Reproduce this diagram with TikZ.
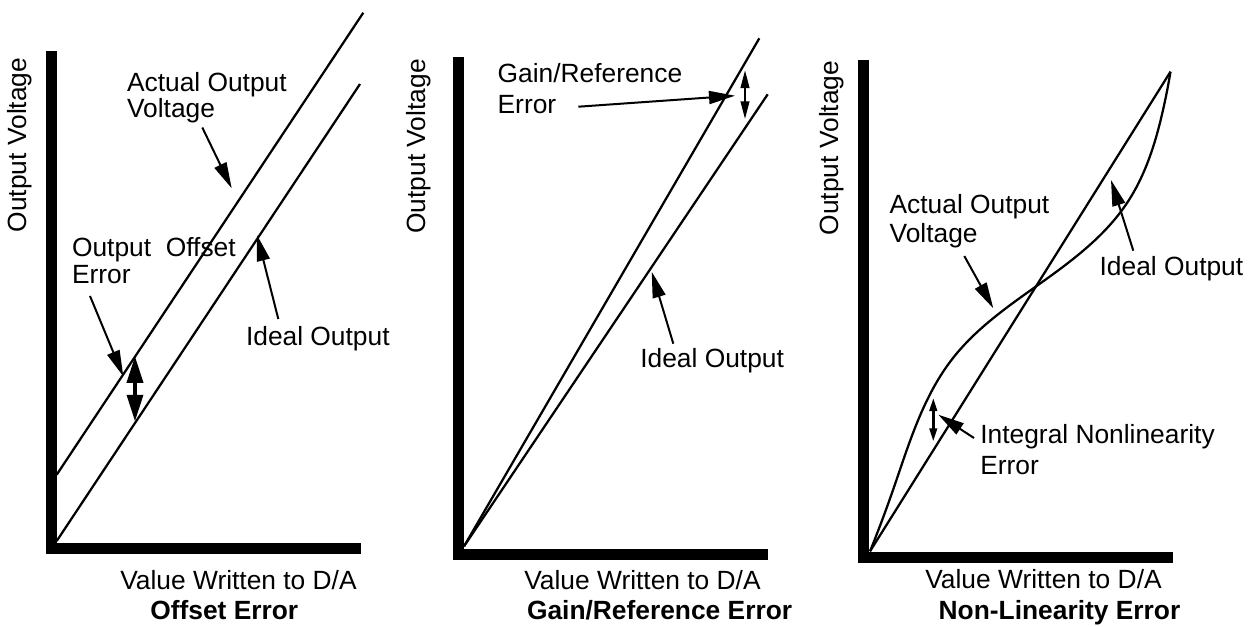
\documentclass[tikz,border=0pt]{standalone}
\usepackage{fontspec}
\setmainfont{Liberation Sans}
\usepackage{tikz}
\usetikzlibrary{arrows.meta,hobby}

\begin{document}
\begin{tikzpicture}[x=0.02cm,y=-0.02cm,
    axis/.style={line width=0.213cm,line join=miter},
    curve/.style={line width=0.045cm},
    lbl/.style={inner sep=0pt,anchor=base west,align=left,font=\fontsize{15}{17.6}\selectfont},
    ylbl/.style={inner sep=0pt,anchor=base,rotate=90,font=\fontsize{15}{17.6}\selectfont},
    ttl/.style={inner sep=0pt,anchor=base west,font=\fontsize{15}{17.6}\selectfont\bfseries},
    pointer/.style={line width=0.04cm,-{Triangle[length=0.52cm,width=0.26cm]}},
    bigspan/.style={line width=0.07cm,{Triangle[length=0.53cm,width=0.32cm]}-{Triangle[length=0.53cm,width=0.32cm]}},
    span/.style={line width=0.05cm,{Triangle[length=0.36cm,width=0.17cm]}-{Triangle[length=0.36cm,width=0.17cm]}},
    smallspan/.style={line width=0.05cm,{Triangle[length=0.26cm,width=0.15cm]}-{Triangle[length=0.26cm,width=0.15cm]}}]
  \useasboundingbox (0,0) rectangle (1257,626);

  \draw[axis] (51.3,51) |- (361,548.3);
  \coordinate (O1) at (56.7,541);
  \coordinate (I1) at (360,84);
  \coordinate (A1) at (56.7,474.7);
  \coordinate (B1) at (363.3,12.7);
  \draw[curve] (O1) -- (I1);
  \draw[curve] (A1) -- (B1);
  \node[ylbl] (yl1) at (26.5,145) {Output Voltage};
  \node[lbl] (act1) at (126.7,117) {Actual Output\\[-2.9pt]Voltage};
  \node[lbl] (off1) at (71.7,283) {Output\ \ Offset\\[-2.4pt]Error};
  \node[lbl] (ide1) at (245.7,345.3) {Ideal Output};
  \node[lbl] (xl1) at (120,589.7) {Value Written to D/A};
  \node[ttl] (t1) at (150,619.7) {Offset Error};
  \coordinate (pa1) at (202.3,127.5);
  \coordinate (qa1) at (231.7,188.3);
  \coordinate (po1) at (90,296);
  \coordinate (qo1) at (123.3,376.3);
  \coordinate (pi1) at (278.3,319);
  \coordinate (qi1) at (257,235);
  \coordinate (du1) at (135,356.3);
  \coordinate (dd1) at (135,421.3);
  \draw[pointer] (pa1) -- (qa1);
  \draw[pointer] (po1) -- (qo1);
  \draw[pointer] (pi1) -- (qi1);
  \draw[bigspan] (du1) -- (dd1);

  \draw[axis] (458.7,57.3) |- (767.7,554.3);
  \coordinate (O2) at (464,546.3);
  \coordinate (A2) at (759.3,38.3);
  \coordinate (I2) at (767.7,94.3);
  \draw[curve] (O2) -- (A2);
  \draw[curve] (O2) -- (I2);
  \node[ylbl] (yl2) at (425.5,146.5) {Output Voltage};
  \node[lbl] (gain2) at (497.3,113.3) {Gain/Reference\\Error};
  \node[lbl] (ide2) at (640,367) {Ideal Output};
  \node[lbl] (xl2) at (524,589.7) {Value Written to D/A};
  \node[ttl] (t2) at (526.7,619.7) {Gain/Reference Error};
  \coordinate (pg2) at (578.3,106.7);
  \coordinate (qg2) at (735,95.7);
  \coordinate (pi2) at (673.3,343.7);
  \coordinate (qi2) at (651.7,271.7);
  \coordinate (du2) at (745,70);
  \coordinate (dd2) at (745,119.3);
  \draw[pointer] (pg2) -- (qg2);
  \draw[pointer] (pi2) -- (qi2);
  \draw[span] (du2) -- (dd2);

  \draw[axis] (863.7,60) |- (1172.7,557.3);
  \coordinate (O3) at (870,551.3);
  \coordinate (T3) at (1170.5,71.7);
  \draw[curve] (O3) -- (T3);
  \draw[curve,use Hobby shortcut] (O3) .. (893,490) .. (953,358) .. (1038,285) .. (1127,203) .. (1163,110) .. (T3);
  \node[ylbl] (yl3) at (838.3,148) {Output Voltage};
  \node[lbl] (act3) at (889.3,242.3) {Actual Output\\[-1.1pt]Voltage};
  \node[lbl] (ide3) at (1099.3,275) {Ideal Output};
  \node[lbl] (inl3) at (980,474.7) {Integral Nonlinearity\\Error};
  \node[lbl] (xl3) at (925,588) {Value Written to D/A};
  \node[ttl] (t3) at (938.3,619.7) {Non-Linearity Error};
  \coordinate (pa3) at (964.3,256);
  \coordinate (qa3) at (993.3,308.3);
  \coordinate (pi3) at (1133.3,250.7);
  \coordinate (qi3) at (1111,180);
  \coordinate (pn3) at (974,438);
  \coordinate (qn3) at (938.3,414.7);
  \coordinate (du3) at (933.3,398);
  \coordinate (dd3) at (933.3,441.3);
  \draw[pointer] (pa3) -- (qa3);
  \draw[pointer] (pi3) -- (qi3);
  \draw[pointer] (pn3) -- (qn3);
  \draw[smallspan] (du3) -- (dd3);
\end{tikzpicture}
\end{document}
